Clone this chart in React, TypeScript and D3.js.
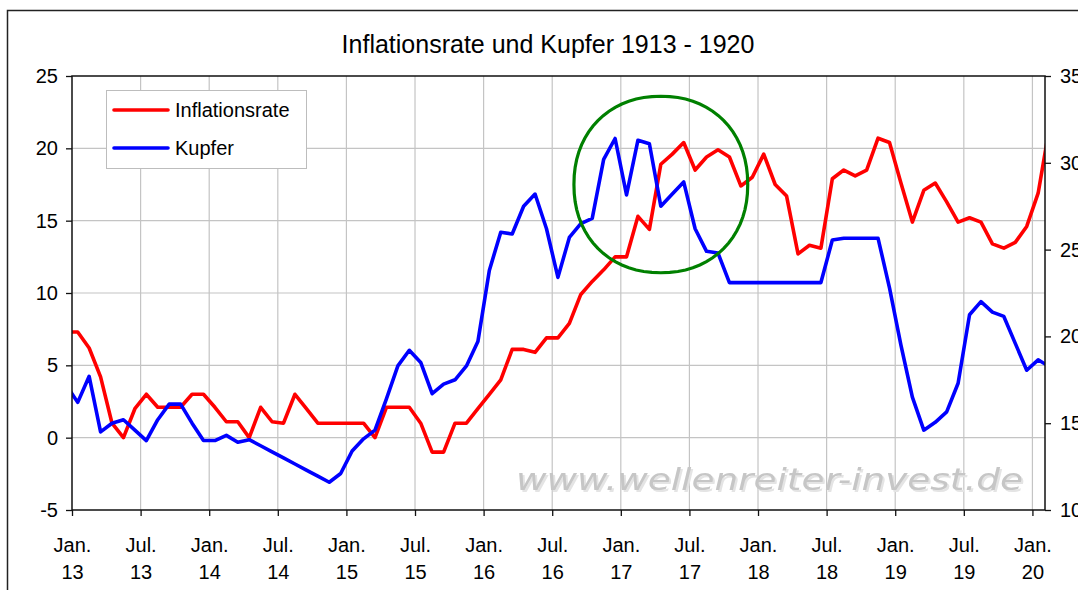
import React, { useEffect, useRef } from 'react';
import * as d3 from 'd3';

// Monthly values, Dec 1912 .. Feb 1920. Month index 0 = Jan 1913,
// points sit in the middle of their month; Dec 12 and Feb 20 get clipped.
const firstMonth = -1;
const inflation = [
  7.3,
  7.3, 6.2, 4.2, 1.0, 0.0, 2.0, 3.0, 2.1, 2.1, 2.1, 3.0, 3.0,
  2.1, 1.1, 1.1, 0.0, 2.1, 1.1, 1.0, 3.0, 2.0, 1.0, 1.0, 1.0,
  1.0, 1.0, 0.0, 2.1, 2.1, 2.1, 1.0, -1.0, -1.0, 1.0, 1.0, 2.0,
  3.0, 4.0, 6.1, 6.1, 5.9, 6.9, 6.9, 7.9, 9.9, 10.8, 11.6, 12.5,
  12.5, 15.3, 14.4, 18.9, 19.6, 20.4, 18.5, 19.4, 19.9, 19.4, 17.4, 18.0,
  19.6, 17.5, 16.7, 12.7, 13.3, 13.1, 17.9, 18.5, 18.1, 18.5, 20.7, 20.4,
  17.6, 14.9, 17.1, 17.6, 16.3, 14.9, 15.2, 14.9, 13.4, 13.1, 13.5, 14.6,
  16.9, 21.5,
];
const copper = [
  17.2,
  16.2, 17.7, 14.5, 15.0, 15.2, 14.6, 14.0, 15.2, 16.1, 16.1, 15.0, 14.0,
  14.0, 14.3, 13.9, 14.05, 13.7, 13.35, 13.0, 12.65, 12.3, 11.95, 11.6, 12.1,
  13.4, 14.1, 14.6, 16.4, 18.3, 19.2, 18.5, 16.7, 17.25, 17.5, 18.3, 19.7,
  23.8, 26.0, 25.9, 27.5, 28.2, 26.2, 23.4, 25.7, 26.5, 26.8, 30.2, 31.4,
  28.15, 31.3, 31.1, 27.5, 28.2, 28.9, 26.2, 24.9, 24.8, 23.1, 23.1, 23.1,
  23.1, 23.1, 23.1, 23.1, 23.1, 23.1, 25.55, 25.65, 25.65, 25.65, 25.65, 22.8,
  19.5, 16.5, 14.6, 15.05, 15.65, 17.3, 21.25, 22.0, 21.4, 21.15, 19.6, 18.05,
  18.65, 18.25,
];

const leftTicks = [-5, 0, 5, 10, 15, 20, 25];
const rightTicks = [10, 15, 20, 25, 30, 35];
const xTickMonths = [0, 6, 12, 18, 24, 30, 36, 42, 48, 54, 60, 66, 72, 78, 84];
const xTickLabels = [
  ['Jan.', '13'], ['Jul.', '13'], ['Jan.', '14'], ['Jul.', '14'], ['Jan.', '15'],
  ['Jul.', '15'], ['Jan.', '16'], ['Jul.', '16'], ['Jan.', '17'], ['Jul.', '17'],
  ['Jan.', '18'], ['Jul.', '18'], ['Jan.', '19'], ['Jul.', '19'], ['Jan.', '20'],
];
const seriesNames = ['Inflationsrate', 'Kupfer'];
// hand drawn ring around the 1917 peak, in data units (month, left axis value)
const ring = { month: 51.5, value: 17.5, rMonths: 7.6, rValue: 6.1 };

const W = 1078;
const H = 590;
const font = '"Liberation Sans", Arial, sans-serif';

const App = () => {
  const svgRef = useRef<SVGSVGElement>(null);

  useEffect(() => {
    if (!svgRef.current) return;
    const svg = d3.select(svgRef.current);
    svg.selectAll('*').remove();

    const left = 72, right = 1045, top = 76, bottom = 510;

    const x = d3.scaleLinear().domain([0, 85.1]).range([left, right]);
    const yL = d3.scaleLinear().domain([-5, 25]).range([bottom, top]);
    const yR = d3.scaleLinear().domain([10, 35]).range([bottom, top]);

    // outer chart border
    svg.append('rect')
      .attr('x', 7.5).attr('y', 10.5).attr('width', W).attr('height', H)
      .attr('fill', 'white').attr('stroke', '#222').attr('stroke-width', 1.5);

    svg.append('text')
      .attr('x', 548).attr('y', 53)
      .attr('text-anchor', 'middle')
      .style('font-family', font).style('font-size', '25px')
      .text('Inflationsrate und Kupfer 1913 - 1920');

    // grid
    const grid = svg.append('g').attr('stroke', '#c4c4c4').attr('stroke-width', 1.2);
    leftTicks.slice(1, -1).forEach(t => {
      grid.append('line').attr('x1', left).attr('x2', right).attr('y1', yL(t)).attr('y2', yL(t));
    });
    xTickMonths.slice(1).forEach(m => {
      grid.append('line').attr('x1', x(m)).attr('x2', x(m)).attr('y1', top).attr('y2', bottom);
    });

    // watermark
    const defs = svg.append('defs');
    defs.append('filter').attr('id', 'soft')
      .append('feGaussianBlur').attr('stdDeviation', 0.7);
    defs.append('clipPath').attr('id', 'plot')
      .append('rect').attr('x', left).attr('y', top).attr('width', right - left).attr('height', bottom - top);

    const wm = svg.append('g').attr('filter', 'url(#soft)')
      .style('font-family', '"DejaVu Sans", Verdana, sans-serif')
      .style('font-size', '31px').style('font-style', 'italic');
    wm.append('text').attr('x', 518).attr('y', 492)
      .attr('textLength', 507).attr('lengthAdjust', 'spacingAndGlyphs')
      .attr('fill', '#e4e4e4').text('www.wellenreiter-invest.de');
    wm.append('text').attr('x', 516).attr('y', 490)
      .attr('textLength', 507).attr('lengthAdjust', 'spacingAndGlyphs')
      .attr('fill', '#c6c6c6').text('www.wellenreiter-invest.de');

    // series
    const lines = svg.append('g').attr('clip-path', 'url(#plot)');
    const lineL = d3.line<number>().x((d, i) => x(firstMonth + i + 0.5)).y(d => yL(d));
    const lineR = d3.line<number>().x((d, i) => x(firstMonth + i + 0.5)).y(d => yR(d));
    lines.append('path').attr('d', lineL(inflation))
      .attr('fill', 'none').attr('stroke', '#ff0000').attr('stroke-width', 3.6).attr('stroke-linejoin', 'round');
    lines.append('path').attr('d', lineR(copper))
      .attr('fill', 'none').attr('stroke', '#0000ff').attr('stroke-width', 3.6).attr('stroke-linejoin', 'round');

    // plot frame + axes
    svg.append('rect')
      .attr('x', left).attr('y', top).attr('width', right - left).attr('height', bottom - top)
      .attr('fill', 'none').attr('stroke', '#111').attr('stroke-width', 1.5);

    const axisStyle = (g: any) => {
      g.select('.domain').remove();
      g.selectAll('line').attr('stroke', '#111').attr('stroke-width', 1.3);
      g.selectAll('text').style('font-family', font).style('font-size', '20px').attr('fill', '#000');
    };

    svg.append('g').attr('transform', `translate(${left},0)`)
      .call(d3.axisLeft(yL).tickValues(leftTicks).tickSize(6).tickPadding(8).tickFormat(d => String(d)))
      .call(axisStyle);

    svg.append('g').attr('transform', `translate(${right},0)`)
      .call(d3.axisRight(yR).tickValues(rightTicks).tickSize(6).tickPadding(9).tickFormat(d => String(d)))
      .call(axisStyle);

    const xAxis = svg.append('g').attr('transform', `translate(0,${bottom})`)
      .call(d3.axisBottom(x).tickValues(xTickMonths).tickSize(6).tickFormat(() => ''));
    axisStyle(xAxis);
    xAxis.selectAll('.tick').each(function (d, i) {
      const t = d3.select(this).append('text')
        .attr('text-anchor', 'middle').attr('fill', '#000')
        .style('font-family', font).style('font-size', '20px');
      t.append('tspan').attr('x', 0).attr('y', 42).text(xTickLabels[i][0]);
      t.append('tspan').attr('x', 0).attr('y', 69).text(xTickLabels[i][1]);
    });

    // ring annotation
    const ringPts = d3.range(0, 73).map(k => {
      const a = (k / 72) * Math.PI * 2;
      const c = Math.cos(a), s = Math.sin(a);
      const p = 2.15;
      const cx = Math.sign(c) * Math.pow(Math.abs(c), 2 / p);
      const sy = Math.sign(s) * Math.pow(Math.abs(s), 2 / p);
      return [x(ring.month + ring.rMonths * cx), yL(ring.value + ring.rValue * sy)] as [number, number];
    });
    svg.append('path').attr('d', d3.line()(ringPts))
      .attr('fill', 'none').attr('stroke', '#008000').attr('stroke-width', 3.2);

    // legend
    const legend = svg.append('g').attr('transform', 'translate(106,90)');
    legend.append('rect').attr('x', 0.5).attr('y', 0.5).attr('width', 200).attr('height', 78)
      .attr('fill', 'white').attr('stroke', '#bdbdbd').attr('stroke-width', 1);
    const colors = ['#ff0000', '#0000ff'];
    seriesNames.forEach((name, i) => {
      const cy = 20 + i * 38;
      legend.append('line').attr('x1', 8).attr('x2', 62).attr('y1', cy).attr('y2', cy)
        .attr('stroke', colors[i]).attr('stroke-width', 3.6).attr('stroke-linecap', 'round');
      legend.append('text').attr('x', 69).attr('y', cy + 7)
        .style('font-family', font).style('font-size', '20px')
        .text(name);
    });
  }, []);

  return (
    <svg ref={svgRef} width={W} height={H}
      style={{ position: 'absolute', left: 0, top: 0, display: 'block', background: 'white' }} />
  );
};

export default App;
